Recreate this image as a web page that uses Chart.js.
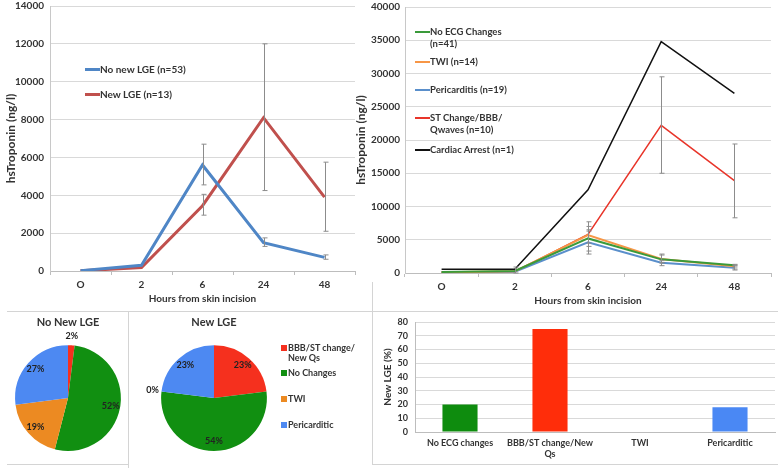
<!DOCTYPE html>
<html>
<head>
<meta charset="utf-8">
<title>hsTroponin and new LGE</title>
<script src="https://cdn.jsdelivr.net/npm/chart.js@4.4.0/dist/chart.umd.min.js"></script>
<style>
  body { margin: 0; width: 778px; height: 468px; background: #fff; position: relative; overflow: hidden;
         font-family: Lato, sans-serif; font-weight: bold; color: #333; }
  .box { position: absolute; }
  .rule { position: absolute; background: #d4d4d4; }
  .key { position: absolute; white-space: pre; }
  .key i { position: absolute; left: 0; }
</style>
</head>
<body>

<div class="box" style="left:0;top:0"><canvas id="lgeLine" width="372" height="312"></canvas></div>
<div class="box" style="left:350px;top:0"><canvas id="ecgLine" width="428" height="312"></canvas></div>
<div class="box" style="left:0;top:313px"><canvas id="pieNoLge" width="128" height="152"></canvas></div>
<div class="box" style="left:129px;top:313px"><canvas id="pieNewLge" width="243" height="152"></canvas></div>
<div class="box" style="left:373px;top:313px"><canvas id="barLge" width="405" height="152"></canvas></div>

<div class="rule" style="left:7px;top:311px;width:771px;height:1px"></div>
<div class="rule" style="left:128px;top:311px;width:1px;height:157px"></div>
<div class="rule" style="left:372px;top:282px;width:1px;height:183px"></div>
<div class="rule" style="left:7px;top:464px;width:121px;height:1px"></div>
<div class="rule" style="left:373px;top:464px;width:405px;height:1px"></div>

<script>
// hours after skin incision
const hours = ['O', '2', '6', '24', '48'];

// panel A: hsTroponin by new LGE
const lgeNames = ['No new LGE (n=53)', 'New LGE (n=13)'];
const noLge = [20, 300, 5600, 1500, 720];
const newLge = [10, 180, 3450, 8100, 3900];
const noLgeErr = [null, null, [4550, 6700], [1300, 1750], [620, 850]];
const newLgeErr = [null, null, [2950, 4050], [4250, 12000], [2100, 5750]];

// panel B: hsTroponin by ECG change
const ecgNames = ['No ECG Changes\n(n=41)', 'TWI (n=14)', 'Pericarditis (n=19)', 'ST Change/BBB/\nQwaves (n=10)', 'Cardiac Arrest (n=1)'];
const noEcg = [150, 300, 5200, 2050, 1150];
const twi = [100, 250, 5700, 2100, 1000];
const peri = [100, 200, 4600, 1550, 800];
const stChange = [100, 200, 5800, 22200, 13900];
const arrest = [550, 550, 12500, 34800, 27000];
const noEcgErr = [null, [0, 900], [4000, 6500], [1500, 2700], [900, 1300]];
const twiErr = [null, null, [3300, 7700], [1600, 2850], [600, 1200]];
const periErr = [null, null, [2850, 6300], [1100, 1900], [450, 1100]];
const stErr = [null, null, [4500, 7000], [15000, 29500], [8300, 19400]];

// panel C: ECG groups (%)
const ecgGroups = ['BBB/ST change/New Qs', 'No Changes', 'TWI', 'Pericarditic'];
const pieKeyNames = ['BBB/ST change/\nNew Qs', 'No Changes', 'TWI', 'Pericarditic'];
const noNewLgePct = [2, 52, 19, 27];
const newLgePct = [23, 54, 0, 23];

// panel D: new LGE rate (%)
const barCats = ['No ECG changes', ['BBB/ST change/New', 'Qs'], 'TWI', 'Pericarditic'];
const newLgeRate = [20, 75, 0, 18];

const groupColors = ['#F5301E', '#118F11', '#EC8A22', '#4D89F2'];
const barColors = ['#0E8C0E', '#FF2D0A', '#EC8A22', '#4A88F4'];

Chart.defaults.font.family = 'Lato, sans-serif';
Chart.defaults.font.weight = 'bold';
Chart.defaults.font.size = 10;
Chart.defaults.color = '#333';
Chart.defaults.animation = false;
Chart.defaults.responsive = false;
Chart.defaults.plugins.legend.display = false;
Chart.defaults.plugins.tooltip.enabled = false;

// vertical error bars with small caps
const errorBars = {
  id: 'errorBars',
  afterDatasetsDraw(chart) {
    const ctx = chart.ctx;
    const y = chart.scales.y;
    ctx.save();
    ctx.strokeStyle = '#8c8c8c';
    ctx.lineWidth = 1;
    chart.data.datasets.forEach((ds, di) => {
      if (!ds.errors) return;
      const pts = chart.getDatasetMeta(di).data;
      ds.errors.forEach((e, i) => {
        if (!e) return;
        const x = Math.round(pts[i].x) + 0.5;
        const lo = y.getPixelForValue(e[0]);
        const hi = y.getPixelForValue(e[1]);
        ctx.beginPath();
        ctx.moveTo(x, lo); ctx.lineTo(x, hi);
        ctx.moveTo(x - 2, lo); ctx.lineTo(x + 3, lo);
        ctx.moveTo(x - 2, hi); ctx.lineTo(x + 3, hi);
        ctx.stroke();
      });
    });
    ctx.restore();
  }
};

// percentage labels on the pie slices
const pieLabels = {
  id: 'pieLabels',
  afterDatasetsDraw(chart) {
    const ctx = chart.ctx;
    const vals = chart.data.datasets[0].data;
    ctx.save();
    ctx.font = 'bold 9px Lato, sans-serif';
    ctx.fillStyle = '#222';
    ctx.textAlign = 'center';
    ctx.textBaseline = 'middle';
    chart.getDatasetMeta(0).data.forEach((arc, i) => {
      const mid = (arc.startAngle + arc.endAngle) / 2;
      const r = vals[i] < 5 ? arc.outerRadius + 9 : arc.outerRadius * 0.82;
      ctx.fillText(vals[i] + '%', arc.x + Math.cos(mid) * r, arc.y + Math.sin(mid) * r);
    });
    ctx.restore();
  }
};

function lineSet(label, data, color, width, errors) {
  return { label, data, errors, borderColor: color, backgroundColor: color, borderWidth: width,
           pointRadius: 0, tension: 0, fill: false };
}

function xHours(height) {
  return {
    offset: true,
    grid: { offset: true, drawOnChartArea: false, tickLength: 4, color: '#bdbdbd' },
    border: { color: '#bdbdbd' },
    ticks: { padding: 4, font: { size: 10 } },
    title: { display: true, text: 'Hours from skin incision', font: { size: 10 }, padding: { top: 2, bottom: 4 } },
    afterFit: s => { s.height = height; }
  };
}

function yTrop(max, step, width, pad) {
  return {
    min: 0, max,
    ticks: { stepSize: step, padding: pad, font: { size: 10 }, callback: v => v },
    grid: { color: '#d9d9d9', drawTicks: false },
    border: { color: '#c8c8c8' },
    title: { display: true, text: 'hsTroponin (ng/l)', font: { size: 12 }, padding: { top: 4, bottom: 0 } },
    afterFit: s => { s.width = width; s.paddingTop = 0; s.paddingBottom = 0; }
  };
}

new Chart(document.getElementById('lgeLine'), {
  type: 'line',
  data: {
    labels: hours,
    datasets: [
      lineSet(lgeNames[0], noLge, '#4F86C6', 3, noLgeErr),
      lineSet(lgeNames[1], newLge, '#C0504D', 3, newLgeErr)
    ]
  },
  options: {
    layout: { padding: { left: 0, top: 6, right: 17, bottom: 3 } },
    scales: { x: xHours(38), y: yTrop(14000, 2000, 50, 6) }
  },
  plugins: [errorBars]
});

new Chart(document.getElementById('ecgLine'), {
  type: 'line',
  data: {
    labels: hours,
    datasets: [
      lineSet(ecgNames[0], noEcg, '#3A9A3A', 2, noEcgErr),
      lineSet(ecgNames[1], twi, '#F79646', 2, twiErr),
      lineSet(ecgNames[2], peri, '#5A8FCB', 2, periErr),
      lineSet(ecgNames[3], stChange, '#E8352A', 1.5, stErr),
      lineSet(ecgNames[4], arrest, '#111111', 1.5, null)
    ]
  },
  options: {
    layout: { padding: { left: 0, top: 7, right: 7, bottom: 1 } },
    scales: { x: xHours(38), y: yTrop(40000, 5000, 55, 5) }
  },
  plugins: [errorBars]
});

function pieChart(id, title, data, pad, titlePad) {
  return new Chart(document.getElementById(id), {
    type: 'pie',
    data: { labels: ecgGroups, datasets: [{ data, backgroundColor: groupColors, borderWidth: 0 }] },
    options: {
      layout: { padding: pad },
      plugins: {
        title: { display: true, text: title, color: '#333', font: { size: 11, weight: 'bold' }, padding: titlePad }
      }
    },
    plugins: [pieLabels]
  });
}

pieChart('pieNoLge', 'No New LGE', noNewLgePct, { left: 15, right: 7, top: 0, bottom: 14 }, { top: 3, bottom: 16 });
pieChart('pieNewLge', 'New LGE', newLgePct, { left: 32, right: 105, top: 0, bottom: 14 }, { top: 3, bottom: 16 });

new Chart(document.getElementById('barLge'), {
  type: 'bar',
  data: {
    labels: barCats,
    datasets: [{ data: newLgeRate, backgroundColor: barColors, categoryPercentage: 1, barPercentage: 0.39 }]
  },
  options: {
    layout: { padding: { left: 0, top: 9, right: 3, bottom: 3 } },
    scales: {
      x: {
        grid: { display: false, drawTicks: false },
        border: { color: '#bdbdbd' },
        ticks: { padding: 6, font: { size: 9 }, maxRotation: 0, minRotation: 0, autoSkip: false },
        afterFit: s => { s.height = 30; }
      },
      y: {
        min: 0, max: 80,
        ticks: { stepSize: 10, padding: 7, font: { size: 9 }, autoSkip: false },
        grid: { color: '#d9d9d9', drawTicks: false },
        border: { color: '#bdbdbd' },
        title: { display: true, text: 'New LGE (%)', font: { size: 10 }, padding: { top: 9, bottom: 0 } },
        afterFit: s => { s.width = 42; s.paddingTop = 0; s.paddingBottom = 0; }
      }
    }
  }
});

// legends drawn as page text
function addKey(x, y, color, text, opts) {
  const d = document.createElement('div');
  d.className = 'key';
  d.style.left = x + 'px';
  d.style.top = (y - opts.lh / 2) + 'px';
  d.style.fontSize = opts.size + 'px';
  d.style.lineHeight = opts.lh + 'px';
  d.style.paddingLeft = opts.indent + 'px';
  d.textContent = text;
  const sw = document.createElement('i');
  sw.style.background = color;
  sw.style.width = opts.sw + 'px';
  sw.style.height = opts.sh + 'px';
  sw.style.top = (opts.lh - opts.sh) / 2 + 'px';
  d.appendChild(sw);
  document.body.appendChild(d);
}

const lineKeyA = { size: 10, lh: 12, indent: 15, sw: 15, sh: 3 };
addKey(85, 69, '#4F86C6', lgeNames[0], lineKeyA);
addKey(85, 94, '#C0504D', lgeNames[1], lineKeyA);

const lineKeyB = { size: 9.5, lh: 12, indent: 15, sw: 15, sh: 2 };
const ecgKeyColors = ['#3A9A3A', '#F79646', '#5A8FCB', '#E8352A', '#111111'];
const ecgKeyY = [32, 62, 90, 118, 150];
ecgNames.forEach((n, i) => addKey(415, ecgKeyY[i], ecgKeyColors[i], n, lineKeyB));

const pieKey = { size: 9, lh: 10, indent: 7, sw: 6, sh: 6 };
const pieKeyY = [348, 373, 399, 425];
pieKeyNames.forEach((n, i) => addKey(281, pieKeyY[i], groupColors[i], n, pieKey));
</script>
</body>
</html>
